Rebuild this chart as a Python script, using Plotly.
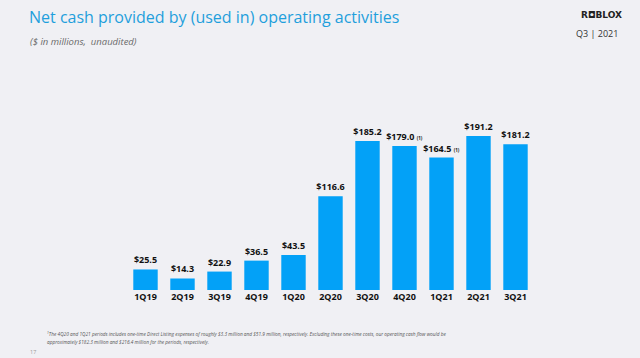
import plotly.graph_objects as go

quarters = ["1Q19", "2Q19", "3Q19", "4Q19", "1Q20", "2Q20", "3Q20", "4Q20", "1Q21", "2Q21", "3Q21"]
values = [25.5, 14.3, 22.9, 36.5, 43.5, 116.6, 185.2, 179.0, 164.5, 191.2, 181.2]
footnote_marks = ["", "", "", "", "", "", "", " <span style='font-size:4.5px'>(1)</span>",
                  " <span style='font-size:4.5px'>(1)</span>", "", ""]

labels = [f"${v:.1f}{m}" for v, m in zip(values, footnote_marks)]

BG = "#f0f0f4"
BAR = "#03a1f7"

W, H = 640, 358
l, r, t, b = 127, 106, 129, 68
pw, ph = W - l - r, H - t - b

fig = go.Figure(go.Bar(
    x=quarters, y=values, text=labels, textposition="outside",
    marker=dict(color=BAR, line=dict(width=0)),
    textfont=dict(family="Open Sans", size=9, color="#111111", weight="bold"),
    cliponaxis=False, constraintext="none", width=0.66,
))

fig.update_layout(
    width=W, height=H,
    paper_bgcolor=BG, plot_bgcolor=BG,
    margin=dict(l=l, r=r, t=t, b=b, autoexpand=False),
    showlegend=False,
    xaxis=dict(showgrid=False, zeroline=False, showline=False, ticks="",
               tickfont=dict(family="Open Sans", size=9, color="#111111", weight="bold")),
    yaxis=dict(range=[0, 200], visible=False, showgrid=False, zeroline=False),
    font=dict(family="Open Sans"),
)

ann = []
def pa(text, px, py, size, color, xanchor="left", weight="normal", style="normal", family="Open Sans"):
    ann.append(dict(text=text, x=(px - l) / pw, y=(H - b - py) / ph, xref="paper", yref="paper",
                    xanchor=xanchor, yanchor="middle", showarrow=False,
                    font=dict(family=family, size=size, color=color, weight=weight, style=style)))

pa("Net cash provided by (used in) operating activities", 27, 17, 16, "#1f9fdc")
pa("($ in millions,  unaudited)", 28, 41, 9.5, "#6a6a6a", style="italic")
pa("R◘BLOX", 624, 15, 9, "#222222", xanchor="right", weight="bold", family="DejaVu Sans")
pa("Q3 | 2021", 620, 33, 9, "#333333", xanchor="right")
pa("<sup>1</sup>The 4Q20 and 1Q21 periods includes one-time Direct Listing expenses of roughly $3.3 million and $51.9 million, respectively. Excluding these one-time costs, our operating cash flow would be",
   45, 333, 4.75, "#555555", style="italic")
pa("approximately $182.3 million and $216.4 million for the periods, respectively.",
   45, 342, 4.75, "#555555", style="italic")
pa("17", 28, 352, 5.5, "#999999")

fig.layout.annotations = ann
fig.write_html("out.html", config={"displayModeBar": False},
               post_script="document.body.style.margin='0';document.body.style.overflow='hidden';")
